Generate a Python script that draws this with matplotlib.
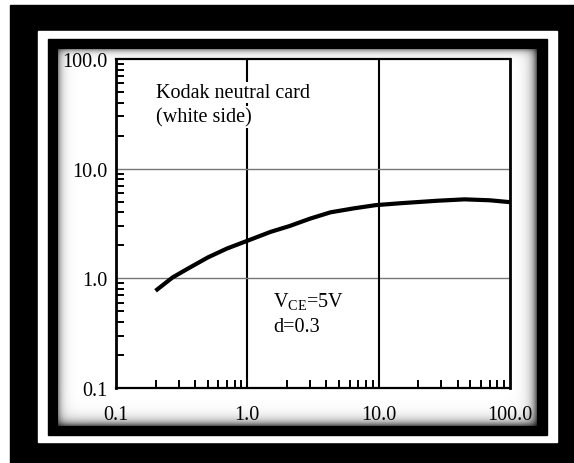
import numpy as np
import matplotlib.pyplot as plt
from matplotlib.patches import Rectangle
from matplotlib.ticker import LogLocator, NullFormatter, FixedLocator, FixedFormatter

# curve (Kodak neutral card, white side)
dist = [0.2, 0.27, 0.35, 0.5, 0.7, 1.0, 1.5, 2.1, 3.0, 4.3, 6.5, 9.5,
        15.0, 28.0, 45.0, 70.0, 100.0]
signal = [0.77, 1.02, 1.22, 1.55, 1.87, 2.2, 2.65, 3.0, 3.5, 4.0, 4.35, 4.65,
          4.85, 5.1, 5.25, 5.15, 4.95]

x_ticks = [0.1, 1.0, 10.0, 100.0]
x_labels = ['0.1', '1.0', '10.0', '100.0']
y_ticks = [0.1, 1.0, 10.0, 100.0]
y_labels = ['0.1', '1.0', '10.0', '100.0']

W, H = 574, 464
plt.rcParams['font.family'] = ['Liberation Serif', 'DejaVu Serif']
plt.rcParams['mathtext.fontset'] = 'custom'
plt.rcParams['mathtext.rm'] = 'Liberation Serif'

fig = plt.figure(figsize=(W / 100, H / 100), dpi=100)
fig.patch.set_facecolor('white')

# decorative frame, drawn in pixel coords
bg = fig.add_axes([0, 0, 1, 1])
bg.set_xlim(0, W)
bg.set_ylim(H, 0)
bg.axis('off')
bg.add_patch(Rectangle((10, 6), W - 10, H - 6, color='black', zorder=1))
bg.add_patch(Rectangle((38, 32), 557 - 38, 443 - 32, color='white', zorder=1))
bg.add_patch(Rectangle((48, 40), 547 - 48, 436 - 40, color='black', zorder=1))

# panel with soft inner shading on the edges
px0, px1, py0, py1 = 58, 537, 50, 427
xx = np.arange(px1 - px0)[None, :]
yy = np.arange(py1 - py0)[:, None]
shade = np.ones((py1 - py0, px1 - px0))
shade *= 1 - 0.45 * np.exp(-xx / 4.0)
shade *= 1 - 0.45 * np.exp(-yy / 3.0)
shade *= 1 - 0.65 * np.exp(-(px1 - px0 - 1 - xx) / 5.0)
shade *= 1 - 0.65 * np.exp(-(py1 - py0 - 1 - yy) / 5.0)
bg.imshow(shade, cmap='gray', vmin=0, vmax=1, extent=(px0, px1, py1, py0),
          interpolation='bilinear', aspect='auto', zorder=2)
bg.set_xlim(0, W)
bg.set_ylim(H, 0)

# main plot
ax = fig.add_axes([116 / W, 1 - 389 / H, (510 - 116) / W, (389 - 60) / H])
ax.set_xscale('log')
ax.set_yscale('log')
ax.set_xlim(0.1, 100)
ax.set_ylim(0.1, 100)

for v in [1.0, 10.0]:
    ax.axvline(v, color='black', lw=1.5, zorder=1)
    ax.axhline(v, color='#777777', lw=1.0, zorder=1)

ax.plot(dist, signal, color='black', lw=3.0, solid_capstyle='butt', zorder=3)

ax.xaxis.set_major_locator(FixedLocator(x_ticks))
ax.xaxis.set_major_formatter(FixedFormatter(x_labels))
ax.yaxis.set_major_locator(FixedLocator(y_ticks))
ax.yaxis.set_major_formatter(FixedFormatter(y_labels))
ax.xaxis.set_minor_locator(LogLocator(base=10, subs=np.arange(2, 10)))
ax.yaxis.set_minor_locator(LogLocator(base=10, subs=np.arange(2, 10)))
ax.xaxis.set_minor_formatter(NullFormatter())
ax.yaxis.set_minor_formatter(NullFormatter())

ax.tick_params(which='major', length=0, labelsize=14.5, pad=6)
ax.tick_params(axis='x', which='major', pad=12)
ax.tick_params(which='minor', direction='in', length=6, width=1.4,
               top=False, right=False)
for side in ['left', 'right']:
    ax.spines[side].set_linewidth(2.0)
for side in ['top', 'bottom']:
    ax.spines[side].set_linewidth(1.6)

box = dict(facecolor='white', edgecolor='none', pad=1.0)
ax.text(0.2, 45, 'Kodak neutral card', fontsize=14.5, ha='left',
        va='baseline', bbox=box, zorder=4)
ax.text(0.2, 27, '(white side)', fontsize=14.5, ha='left',
        va='baseline', bbox=box, zorder=4)
ax.text(1.57, 0.547, r'V$_{\rm CE}$=5V', fontsize=14.5, ha='left', va='baseline')
ax.text(1.57, 0.333, 'd=0.3', fontsize=14.5, ha='left', va='baseline')

fig.savefig('out.png', dpi=100)
